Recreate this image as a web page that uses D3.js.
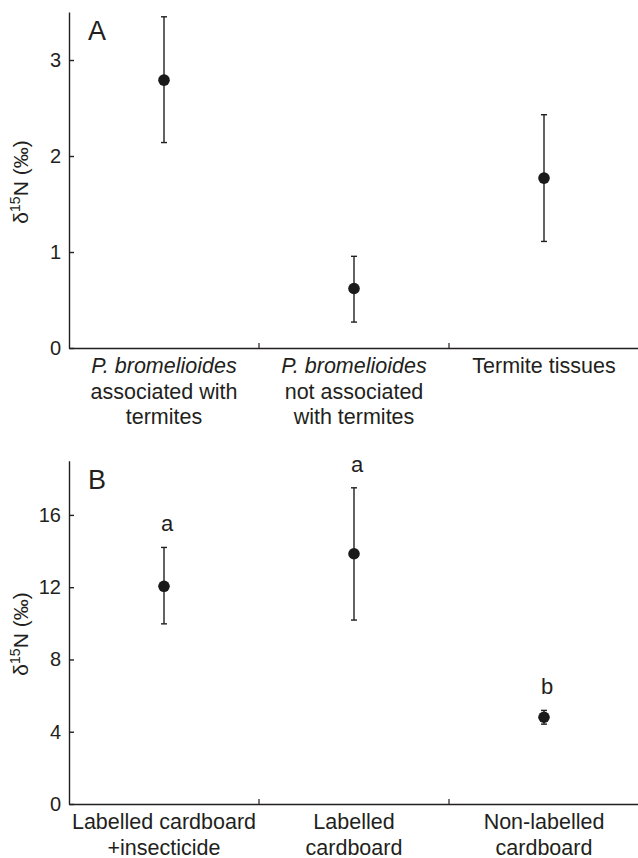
<!DOCTYPE html>
<html><head><meta charset="utf-8">
<script src="https://cdn.jsdelivr.net/npm/d3@7"></script>
<style>
body{margin:0;background:#fff}
svg text{font-family:"Liberation Sans",Arial,Helvetica,sans-serif;fill:#231f20}
</style>
</head><body><svg id="c" width="638" height="858"></svg>
<script>
// Panel A data
const categoriesA = ["P. bromelioides|associated with|termites", "P. bromelioides|not associated|with termites", "Termite tissues"];
const italicLines = ["P. bromelioides"];
const meanA  = [2.79, 0.62, 1.77];
const upperA = [3.45, 0.955, 2.43];
const lowerA = [2.14, 0.27, 1.11];
const ticksA = [0, 1, 2, 3];
const domainA = [0, 3.5];
// Panel B data
const categoriesB = ["Labelled cardboard|+insecticide", "Labelled|cardboard", "Non-labelled|cardboard"];
const meanB  = [12.05, 13.85, 4.8];
const upperB = [14.2, 17.5, 5.18];
const lowerB = [9.97, 10.18, 4.42];
const lettersB = ["a", "a", "b"];
const ticksB = [0, 4, 8, 12, 16];
const domainB = [0, 19];

const svg = d3.select("#c");
const ink = "#231f20";

function panel(cfg){
  const g = svg.append("g");
  const x = d3.scaleBand().domain(cfg.cats).range([69, 639]).padding(0);
  const y = d3.scaleLinear().domain(cfg.domain).range([cfg.bottom, cfg.top]);

  // y axis
  const ya = g.append("g").attr("transform","translate(69,0)")
    .call(d3.axisLeft(y).tickValues(cfg.ticks).tickFormat(d3.format("d"))
      .tickSizeInner(-5).tickSizeOuter(0).tickPadding(8));
  ya.selectAll("path,line").attr("stroke", ink).attr("stroke-width",1.4);
  ya.selectAll("text").attr("font-size",20).attr("fill",ink)
    .style("font-family","'Liberation Sans',Arial,sans-serif");

  // x axis (line + divider ticks)
  const xa = g.append("g").attr("transform",`translate(0,${cfg.bottom})`)
    .call(d3.axisBottom(x).tickSize(0).tickFormat(""));
  xa.select("path").attr("stroke", ink).attr("stroke-width",1.4);
  xa.selectAll(".tick").remove();
  cfg.cats.slice(0,-1).forEach(c=>{
    const bx = x(c) + x.bandwidth();
    g.append("line").attr("x1",bx).attr("x2",bx)
      .attr("y1",cfg.bottom).attr("y2",cfg.bottom-5)
      .attr("stroke",ink).attr("stroke-width",1.2);
  });

  // category labels
  cfg.cats.forEach(c=>{
    const cx = x(c) + x.bandwidth()/2;
    const t = g.append("text").attr("text-anchor","middle").attr("font-size",21.5);
    c.split("|").forEach((ln,i)=>{
      t.append("tspan").attr("x",cx).attr("y",cfg.bottom+25+i*25.5)
        .attr("font-style", italicLines.includes(ln) ? "italic" : "normal")
        .text(ln);
    });
  });

  // error bars and points
  cfg.cats.forEach((c,i)=>{
    const cx = x(c) + x.bandwidth()/2;
    g.append("line").attr("x1",cx).attr("x2",cx)
      .attr("y1",y(cfg.lower[i])).attr("y2",y(cfg.upper[i]))
      .attr("stroke",ink).attr("stroke-width",1.4);
    [cfg.lower[i], cfg.upper[i]].forEach(v=>{
      g.append("line").attr("x1",cx-3).attr("x2",cx+3)
        .attr("y1",y(v)).attr("y2",y(v))
        .attr("stroke",ink).attr("stroke-width",1.4);
    });
    g.append("circle").attr("cx",cx).attr("cy",y(cfg.mean[i])).attr("r",5.8).attr("fill","#1a1a1a");
    if(cfg.letters){
      g.append("text").attr("x",cx+3).attr("y",y(cfg.upper[i])-16)
        .attr("text-anchor","middle").attr("font-size",22).text(cfg.letters[i]);
    }
  });

  // panel letter
  g.append("text").attr("x",88).attr("y",cfg.top+28).attr("font-size",27).text(cfg.panel);

  // y label
  const yl = g.append("text").attr("transform",`translate(28,${cfg.labelY}) rotate(-90)`)
    .attr("text-anchor","middle").attr("font-size",21);
  yl.append("tspan").text("δ");
  yl.append("tspan").attr("font-size",14).attr("dy",-8).text("15");
  yl.append("tspan").attr("dy",8).text("N (‰)");
}

panel({cats:categoriesA, mean:meanA, upper:upperA, lower:lowerA, ticks:ticksA, domain:domainA,
       top:12, bottom:348, panel:"A", labelY:182});
panel({cats:categoriesB, mean:meanB, upper:upperB, lower:lowerB, ticks:ticksB, domain:domainB,
       top:460.7, bottom:804, panel:"B", labelY:634, letters:lettersB});
</script>
</body></html>
